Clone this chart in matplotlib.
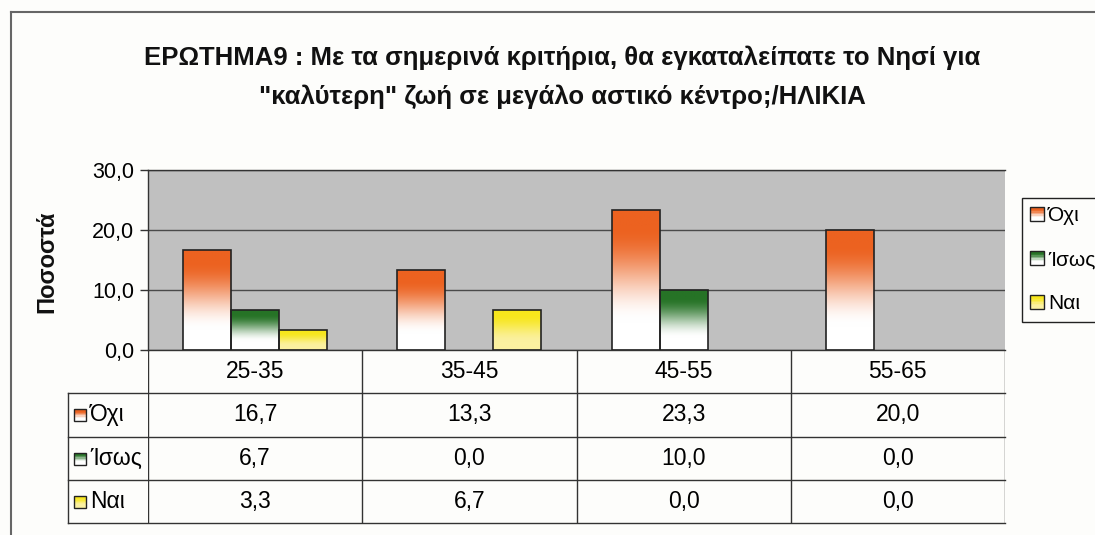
import numpy as np
import matplotlib
matplotlib.use('Agg')
import matplotlib.pyplot as plt
from matplotlib.patches import Rectangle
from matplotlib.lines import Line2D
from matplotlib.legend_handler import HandlerBase
from matplotlib.colors import to_rgb

plt.rcParams['font.family'] = ['Liberation Sans', 'DejaVu Sans']

title = ('ΕΡΩΤΗΜΑ9 : Με τα σημερινά κριτήρια, θα εγκαταλείπατε το Νησί για\n'
         '"καλύτερη" ζωή σε μεγάλο αστικό κέντρο;/ΗΛΙΚΙΑ')
ylabel = 'Ποσοστά'
categories = ['25-35', '35-45', '45-55', '55-65']
series = ['Όχι', 'Ίσως', 'Ναι']
ochi = [16.7, 13.3, 23.3, 20.0]
isos = [6.7, 0.0, 10.0, 0.0]
nai = [3.3, 6.7, 0.0, 0.0]
yticks = [0, 10, 20, 30]

top_colors = ['#ec6220', '#267326', '#f7e61c']
bottom_colors = ['#ffffff', '#ffffff', '#fbf1a0']


def fade(i, n=64):
    # colour ramp, top of bar -> bottom of bar
    t = np.linspace(0, 1, n)
    s = np.clip((t - 0.12) / (0.8 - 0.12), 0, 1)
    s = s * s * (3 - 2 * s)
    c0 = np.array(to_rgb(top_colors[i]))
    c1 = np.array(to_rgb(bottom_colors[i]))
    return c0[None, :] * (1 - s[:, None]) + c1[None, :] * s[:, None]


def key(axis, x0, y0, w, h, i, trans, n=10):
    # little striped square (y0 = top edge, h grows downwards in trans units)
    cols = fade(i, n)
    for k in range(n):
        axis.add_patch(Rectangle((x0, y0 + h * k / n), w, h / n, fc=cols[k], ec='none',
                                 transform=trans, clip_on=False))
    axis.add_patch(Rectangle((x0, y0), w, h, fc='none', ec='#222222', lw=1,
                             transform=trans, clip_on=False))


class FadeKey(HandlerBase):
    def __init__(self, idx):
        super().__init__()
        self.idx = idx

    def create_artists(self, legend, orig, xd, yd, width, height, fontsize, trans):
        n = 10
        cols = fade(self.idx, n)
        side = min(width, height)
        arts = []
        for k in range(n):
            arts.append(Rectangle((-xd, -yd + side * (1 - (k + 1) / n)), side, side / n,
                                  fc=cols[k], ec='none', transform=trans))
        arts.append(Rectangle((-xd, -yd), side, side, fc='none', ec='#222222', lw=1,
                              transform=trans))
        return arts


W, H = 1095, 535
fig = plt.figure(figsize=(W / 100, H / 100), dpi=100)
fig.patch.set_facecolor('#fdfdfb')

ax = fig.add_axes([148 / W, 1 - 350 / H, 857 / W, 180 / H])
ax.set_facecolor('#c0c0c0')

w = 0.224
x = np.arange(len(categories))
values = [ochi, isos, nai]
for i, vals in enumerate(values):
    bars = ax.bar(x + (i - 1) * w, vals, w, fc='none', ec='#222222', lw=1.2, zorder=3)
    for b in bars:
        if b.get_height() <= 0:
            b.set_visible(False)
            continue
        im = ax.imshow(fade(i)[:, None, :], aspect='auto', interpolation='bilinear', zorder=2,
                       extent=(b.get_x(), b.get_x() + b.get_width(), 0, b.get_height()))
        im.set_clip_path(b)

ax.set_xlim(-0.5, len(categories) - 0.5)
ax.set_ylim(0, 30)
ax.set_yticks(yticks)
ax.set_yticklabels([f'{v:.1f}'.replace('.', ',') for v in yticks], fontsize=15.5)
ax.set_xticks([])
ax.yaxis.grid(True, color='#4a4a4a', lw=1)
ax.set_axisbelow(True)
ax.tick_params(axis='y', length=6, width=1, color='#333333', pad=4)
for s in ['left', 'bottom', 'top']:
    ax.spines[s].set_color('#333333')
    ax.spines[s].set_linewidth(1)
ax.spines['right'].set_visible(False)

# data table under the plot
tax = fig.add_axes([148 / W, 1 - 523 / H, 857 / W, 173 / H], sharex=ax)
tax.set_ylim(4, 0)
tax.axis('off')
ytr = tax.get_yaxis_transform()
left = -80 / 857
lc = '#333333'
fs = 16.5
for r in [1, 2, 3, 4]:
    tax.plot([left, 1], [r, r], color=lc, lw=1, transform=ytr, clip_on=False)
tax.plot([left, left], [1, 4], color=lc, lw=1, transform=ytr, clip_on=False)
tax.vlines(np.arange(len(categories) + 1) - 0.5, 0, 4, color=lc, lw=1)

for j, c in enumerate(categories):
    tax.text(j, 0.5, c, ha='center', va='center', fontsize=fs)
for r, (name, vals) in enumerate(zip(series, values)):
    for j, v in enumerate(vals):
        tax.text(j, r + 1.5, f'{v:.1f}'.replace('.', ','), ha='center', va='center', fontsize=fs)
    key(tax, -74 / 857, r + 1.5 - 0.13, 12 / 857, 0.28, r, ytr)
    tax.text(-58 / 857, r + 1.5, name, ha='left', va='center', fontsize=fs, transform=ytr)

# legend
handles = [Rectangle((0, 0), 1, 1) for _ in series]
leg = fig.legend(handles, series, handler_map={h: FadeKey(i) for i, h in enumerate(handles)},
                 loc='upper left', bbox_to_anchor=(1022 / W, 1 - 198 / H), fontsize=15,
                 frameon=True, fancybox=False, edgecolor='#222222', framealpha=1,
                 facecolor='#fdfdfb', handlelength=0.65, handleheight=0.65,
                 handletextpad=0.2, labelspacing=1.2, borderpad=0.4, borderaxespad=0)
leg.get_frame().set_linewidth(1)

# outer chart frame
fig.add_artist(Line2D([11 / W, 11 / W], [0, 1 - 12 / H], color='#666666', lw=1.5))
fig.add_artist(Line2D([11 / W, 1], [1 - 12 / H, 1 - 12 / H], color='#666666', lw=1.5))

fig.text(562 / W, 1 - 77 / H, title, ha='center', va='center', fontsize=18.5,
         fontweight='bold', linespacing=1.75, color='#111111')
fig.text(47 / W, 1 - 262 / H, ylabel, rotation=90, ha='center', va='center',
         fontsize=17, fontweight='bold', color='#111111')

fig.savefig('out.png', dpi=100, facecolor=fig.get_facecolor())
